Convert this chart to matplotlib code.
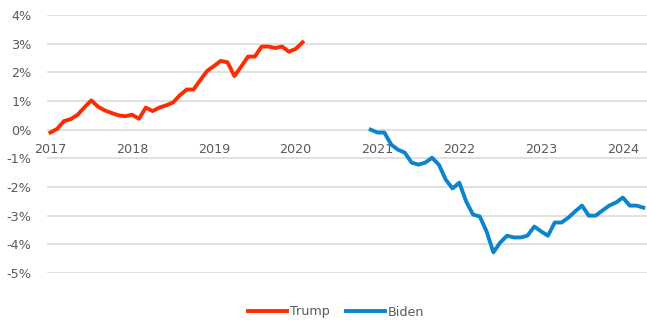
import numpy as np
import matplotlib.pyplot as plt

# monthly series, Jan 2017 .. Apr 2024 (88 months)
n_months = 88
years = ['2017', '2018', '2019', '2020', '2021', '2022', '2023', '2024']

# Trump: Jan 2017 - Feb 2020
trump = [-0.1, 0.03, 0.3, 0.37, 0.52, 0.78, 1.02, 0.8, 0.67, 0.58, 0.5, 0.47, 0.52,
         0.38, 0.77, 0.65, 0.77, 0.85, 0.95, 1.2, 1.4, 1.4, 1.73, 2.05, 2.22, 2.4,
         2.35, 1.87, 2.2, 2.55, 2.55, 2.9, 2.9, 2.85, 2.9, 2.72, 2.82, 3.05]
# Biden: Dec 2020 - Apr 2024
biden = [0.0, -0.1, -0.1, -0.52, -0.7, -0.8, -1.15, -1.22, -1.15, -0.98, -1.22,
         -1.74, -2.05, -1.85, -2.5, -2.96, -3.03, -3.55, -4.28, -3.94, -3.7, -3.76,
         -3.76, -3.7, -3.38, -3.55, -3.7, -3.24, -3.24, -3.07, -2.85, -2.65, -3.0,
         -3.0, -2.82, -2.65, -2.54, -2.37, -2.65, -2.65, -2.72]
biden_start = 47

plt.rcParams['font.family'] = ['DejaVu Sans']
txt = '#595959'

fig = plt.figure(figsize=(6.47, 3.2), dpi=100)
ax = fig.add_axes([0.0726, 0.147, 0.927, 0.806])

x_t = np.arange(len(trump))
x_b = np.arange(biden_start, biden_start + len(biden))
ax.plot(x_t, trump, color='#FF2B00', lw=2.8, label='Trump', solid_joinstyle='round')
ax.plot(x_b, biden, color='#0A85CC', lw=2.8, label='Biden', solid_joinstyle='round')

ax.set_xlim(-0.5, n_months - 0.5)
ax.set_ylim(-5, 4)
ax.set_yticks(range(-5, 5))
ax.set_yticklabels([f'{v}%' for v in range(-5, 5)])
ax.set_xticks(range(0, n_months, 12))
ax.set_xticklabels(years)

ax.grid(axis='y', color='#D9D9D9', lw=1.1)
ax.set_axisbelow(True)
for s in ['top', 'right', 'left']:
    ax.spines[s].set_visible(False)
ax.spines['bottom'].set_position(('data', 0))
ax.spines['bottom'].set_visible(False)
ax.tick_params(axis='both', length=0, labelsize=9.2, colors=txt)
ax.tick_params(axis='y', pad=11)
ax.tick_params(axis='x', pad=9.5)

fig.legend(loc='center', bbox_to_anchor=(0.52, 0.025), ncol=2, frameon=False,
           fontsize=9.2, labelcolor=txt, handlelength=3.0, handletextpad=0.25,
           columnspacing=1.3)

fig.savefig('out.png', dpi=100)
